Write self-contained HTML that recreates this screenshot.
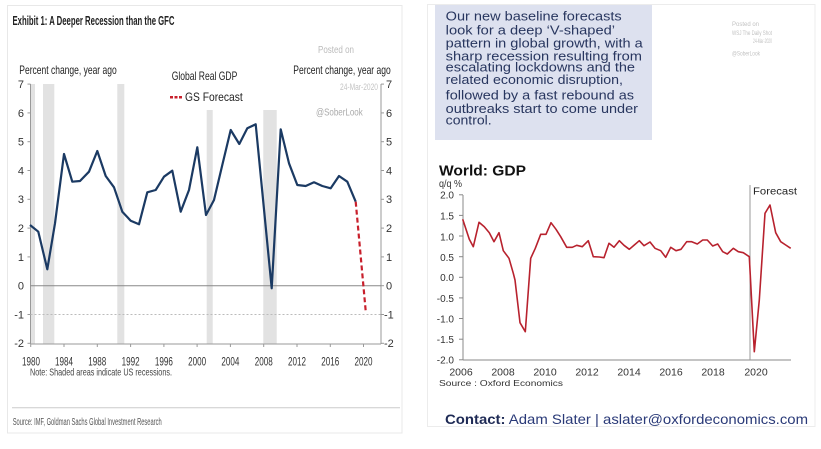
<!DOCTYPE html>
<html><head><meta charset="utf-8">
<style>
html,body{margin:0;padding:0;background:#fff;}
svg{display:block;}
text{font-family:"Liberation Sans",Arial,sans-serif;}
</style></head>
<body>
<svg width="821" height="449" viewBox="0 0 821 449" xmlns="http://www.w3.org/2000/svg">
<rect x="0" y="0" width="821" height="449" fill="#fff"/>

<!-- LEFT PANEL -->
<rect x="7.5" y="5.5" width="394.5" height="427.5" fill="#fff" stroke="#e8e8e8" stroke-width="1"/>
<text x="12.5" y="25" font-size="13" font-weight="bold" fill="#222" textLength="162" lengthAdjust="spacingAndGlyphs">Exhibit 1: A Deeper Recession than the GFC</text>

<!-- recession bars -->
<g fill="#e2e2e2">
<rect x="30.7" y="84" width="4.3" height="260"/>
<rect x="43" y="84" width="11.3" height="260"/>
<rect x="117.3" y="84" width="7" height="260"/>
<rect x="206.7" y="110" width="6" height="234"/>
<rect x="263.3" y="110" width="13.4" height="234"/>
</g>

<!-- labels top -->
<text x="19.3" y="74" font-size="12" fill="#222" textLength="97.4" lengthAdjust="spacingAndGlyphs">Percent change, year ago</text>
<text x="293.3" y="74" font-size="12" fill="#222" textLength="97.4" lengthAdjust="spacingAndGlyphs">Percent change, year ago</text>
<text x="171.7" y="80" font-size="12" fill="#222" textLength="65.6" lengthAdjust="spacingAndGlyphs">Global Real GDP</text>
<line x1="170" y1="97.3" x2="182" y2="97.3" stroke="#c8202c" stroke-width="2.5" stroke-dasharray="3,1.5"/>
<text x="185" y="101" font-size="12" fill="#222" textLength="57.7" lengthAdjust="spacingAndGlyphs">GS Forecast</text>
<text x="318" y="53" font-size="10" fill="#bbb" textLength="36" lengthAdjust="spacingAndGlyphs">Posted on</text>
<text x="340" y="90" font-size="9" fill="#c4c4c4" textLength="38" lengthAdjust="spacingAndGlyphs">24-Mar-2020</text>
<text x="316" y="115.5" font-size="10.5" fill="#aaa" textLength="46.7" lengthAdjust="spacingAndGlyphs">@SoberLook</text>

<!-- axes -->
<line x1="30.5" y1="84" x2="30.5" y2="344" stroke="#999" stroke-width="1"/>
<line x1="381" y1="84" x2="381" y2="344" stroke="#999" stroke-width="1"/>
<line x1="30.5" y1="344" x2="381" y2="344" stroke="#999" stroke-width="1"/>
<line x1="30.5" y1="285.7" x2="381" y2="285.7" stroke="#888" stroke-width="1"/>
<line x1="30.5" y1="314.5" x2="381" y2="314.5" stroke="#bbb" stroke-width="1" stroke-dasharray="2,2"/>
<g stroke="#999" stroke-width="1">
<line x1="381" y1="84.1" x2="384" y2="84.1"/><line x1="381" y1="112.9" x2="384" y2="112.9"/>
<line x1="381" y1="141.7" x2="384" y2="141.7"/><line x1="381" y1="170.5" x2="384" y2="170.5"/>
<line x1="381" y1="199.3" x2="384" y2="199.3"/><line x1="381" y1="228.1" x2="384" y2="228.1"/>
<line x1="381" y1="256.9" x2="384" y2="256.9"/><line x1="381" y1="285.7" x2="384" y2="285.7"/>
<line x1="381" y1="314.5" x2="384" y2="314.5"/><line x1="381" y1="343.3" x2="384" y2="343.3"/>
<line x1="27.5" y1="84.1" x2="30.5" y2="84.1"/><line x1="27.5" y1="112.9" x2="30.5" y2="112.9"/>
<line x1="27.5" y1="141.7" x2="30.5" y2="141.7"/><line x1="27.5" y1="170.5" x2="30.5" y2="170.5"/>
<line x1="27.5" y1="199.3" x2="30.5" y2="199.3"/><line x1="27.5" y1="228.1" x2="30.5" y2="228.1"/>
<line x1="27.5" y1="256.9" x2="30.5" y2="256.9"/><line x1="27.5" y1="314.5" x2="30.5" y2="314.5"/>
<line x1="27.5" y1="343.3" x2="30.5" y2="343.3"/>
<line x1="30.7" y1="344" x2="30.7" y2="347"/><line x1="64" y1="344" x2="64" y2="347"/>
<line x1="97.3" y1="344" x2="97.3" y2="347"/><line x1="130.6" y1="344" x2="130.6" y2="347"/>
<line x1="163.9" y1="344" x2="163.9" y2="347"/><line x1="197.1" y1="344" x2="197.1" y2="347"/>
<line x1="230.4" y1="344" x2="230.4" y2="347"/><line x1="263.7" y1="344" x2="263.7" y2="347"/>
<line x1="297" y1="344" x2="297" y2="347"/><line x1="330.3" y1="344" x2="330.3" y2="347"/>
<line x1="363.5" y1="344" x2="363.5" y2="347"/>
</g>
<!-- left y labels -->
<g font-size="11" fill="#333" text-anchor="end">
<text x="24" y="88">7</text><text x="24" y="117">6</text><text x="24" y="145.5">5</text>
<text x="24" y="174.5">4</text><text x="24" y="203">3</text><text x="24" y="232">2</text>
<text x="24" y="261">1</text><text x="24" y="289.5">0</text><text x="24" y="318.5">-1</text>
<text x="24" y="347">-2</text>
</g>
<g font-size="11" fill="#333">
<text x="386" y="88">7</text><text x="386" y="117">6</text><text x="386" y="145.5">5</text>
<text x="386" y="174.5">4</text><text x="386" y="203">3</text><text x="386" y="232">2</text>
<text x="386" y="261">1</text><text x="386" y="289.5">0</text><text x="384" y="318.5">-1</text>
<text x="384" y="347">-2</text>
</g>
<!-- x labels -->
<g font-size="12" fill="#333" text-anchor="middle">
<text x="31" y="365.5" textLength="18" lengthAdjust="spacingAndGlyphs">1980</text>
<text x="64" y="365.5" textLength="18" lengthAdjust="spacingAndGlyphs">1984</text>
<text x="97.3" y="365.5" textLength="18" lengthAdjust="spacingAndGlyphs">1988</text>
<text x="130.6" y="365.5" textLength="18" lengthAdjust="spacingAndGlyphs">1992</text>
<text x="163.9" y="365.5" textLength="18" lengthAdjust="spacingAndGlyphs">1996</text>
<text x="197.1" y="365.5" textLength="18" lengthAdjust="spacingAndGlyphs">2000</text>
<text x="230.4" y="365.5" textLength="18" lengthAdjust="spacingAndGlyphs">2004</text>
<text x="263.7" y="365.5" textLength="18" lengthAdjust="spacingAndGlyphs">2008</text>
<text x="297" y="365.5" textLength="18" lengthAdjust="spacingAndGlyphs">2012</text>
<text x="330.3" y="365.5" textLength="18" lengthAdjust="spacingAndGlyphs">2016</text>
<text x="363.5" y="365.5" textLength="18" lengthAdjust="spacingAndGlyphs">2020</text>
</g>
<text x="30" y="375.5" font-size="10.5" fill="#444" textLength="142" lengthAdjust="spacingAndGlyphs">Note: Shaded areas indicate US recessions.</text>
<line x1="12" y1="407.7" x2="400" y2="407.7" stroke="#ccc" stroke-width="1"/>
<text x="12.7" y="425" font-size="10" fill="#555" textLength="149" lengthAdjust="spacingAndGlyphs">Source: IMF, Goldman Sachs Global Investment Research</text>

<!-- series -->
<polyline fill="none" stroke="#1b3a63" stroke-width="2.2" stroke-linejoin="round" points="30.0,225.0 38.3,231.7 47.3,269.3 55.0,223.3 64.0,154.0 72.3,181.7 80.0,181.0 89.0,171.7 97.3,151.0 105.7,176.0 114.0,187.3 122.3,211.7 130.7,220.7 139.0,224.3 147.3,192.3 155.7,190.0 164.0,176.7 172.3,170.7 180.7,211.7 189.0,190.0 197.3,147.3 206.0,215.0 214.0,200.0 222.3,165.0 230.7,130.0 239.3,144.0 247.3,128.3 255.7,124.3 271.7,288.3 280.7,129.3 289.0,163.3 297.3,185.0 305.7,186.0 314.0,182.3 322.3,186.0 330.7,188.3 339.0,176.0 347.3,181.7 355.7,201.7"/>
<line x1="355.7" y1="201.7" x2="365.7" y2="311" stroke="#c8202c" stroke-width="2.2" stroke-dasharray="5,3"/>

<!-- RIGHT PANEL -->
<rect x="427.5" y="4.5" width="387.5" height="422" fill="#fff" stroke="#ececec" stroke-width="1"/>
<rect x="435" y="5" width="217" height="135" fill="#dde1ef"/>
<g font-size="12.5" fill="#28365f">
<text x="445.7" y="20.7" textLength="176" lengthAdjust="spacingAndGlyphs">Our new baseline forecasts</text>
<text x="445.7" y="34.3" textLength="169.3" lengthAdjust="spacingAndGlyphs">look for a deep ‘V-shaped’</text>
<text x="445.7" y="47.7" textLength="197" lengthAdjust="spacingAndGlyphs">pattern in global growth, with a</text>
<text x="445.7" y="60.7" textLength="196.3" lengthAdjust="spacingAndGlyphs">sharp recession resulting from</text>
<text x="445.7" y="71.5" textLength="189.3" lengthAdjust="spacingAndGlyphs">escalating lockdowns and the</text>
<text x="445.7" y="84" textLength="177.3" lengthAdjust="spacingAndGlyphs">related economic disruption,</text>
<text x="445.7" y="99.5" textLength="188.3" lengthAdjust="spacingAndGlyphs">followed by a fast rebound as</text>
<text x="445.7" y="112.9" textLength="192.3" lengthAdjust="spacingAndGlyphs">outbreaks start to come under</text>
<text x="445.7" y="124.5" textLength="46" lengthAdjust="spacingAndGlyphs">control.</text>
</g>
<g font-size="6" fill="#c2c2c2">
<text x="732" y="26">Posted on</text>
<text x="732" y="35" textLength="40" lengthAdjust="spacingAndGlyphs">WSJ The Daily Shot</text>
<text x="753" y="43" textLength="19" lengthAdjust="spacingAndGlyphs">24-Mar-2020</text>
<text x="732" y="55.5" textLength="28" lengthAdjust="spacingAndGlyphs">@SoberLook</text>
</g>

<text x="439" y="175.5" font-size="15" font-weight="bold" fill="#111" textLength="87" lengthAdjust="spacingAndGlyphs">World: GDP</text>
<text x="439" y="187" font-size="10" fill="#333" textLength="23" lengthAdjust="spacingAndGlyphs">q/q %</text>

<g font-size="10" fill="#333" text-anchor="end">
<text x="454" y="198.5">2.0</text>
<text x="454" y="219.5">1.5</text>
<text x="454" y="240.5">1.0</text>
<text x="454" y="261">0.5</text>
<text x="454" y="281">0.0</text>
<text x="454" y="302">-0.5</text>
<text x="454" y="322.5">-1.0</text>
<text x="454" y="343">-1.5</text>
<text x="454" y="363.5">-2.0</text>
</g>
<line x1="463" y1="195" x2="463" y2="360" stroke="#888" stroke-width="1"/>
<line x1="463" y1="360" x2="791" y2="360" stroke="#888" stroke-width="1"/>
<g stroke="#888" stroke-width="1">
<line x1="459" y1="194.8" x2="463" y2="194.8"/><line x1="459" y1="215.4" x2="463" y2="215.4"/>
<line x1="459" y1="236" x2="463" y2="236"/><line x1="459" y1="256.7" x2="463" y2="256.7"/>
<line x1="459" y1="277.3" x2="463" y2="277.3"/><line x1="459" y1="297.9" x2="463" y2="297.9"/>
<line x1="459" y1="318.5" x2="463" y2="318.5"/><line x1="459" y1="339.2" x2="463" y2="339.2"/>
<line x1="459" y1="359.8" x2="463" y2="359.8"/>
</g>
<line x1="750" y1="185" x2="750" y2="360" stroke="#999" stroke-width="1"/>
<text x="753" y="194.5" font-size="10" fill="#222" textLength="44" lengthAdjust="spacingAndGlyphs">Forecast</text>
<g font-size="10.5" fill="#333" text-anchor="middle">
<text x="461" y="375.5">2006</text>
<text x="503" y="375.5">2008</text>
<text x="545" y="375.5">2010</text>
<text x="587" y="375.5">2012</text>
<text x="629" y="375.5">2014</text>
<text x="671" y="375.5">2016</text>
<text x="713" y="375.5">2018</text>
<text x="756" y="375.5">2020</text>
</g>
<text x="439" y="386" font-size="8.5" fill="#333" textLength="124" lengthAdjust="spacingAndGlyphs">Source : Oxford Economics</text>

<polyline fill="none" stroke="#b8222e" stroke-width="1.6" stroke-linejoin="round" points="462.7,219.3 469.3,239.3 473.3,246.7 479.0,222.3 484.3,226.7 489.3,232.7 494.0,241.7 499.0,232.7 503.3,250.7 509.0,258.3 513.3,273.3 515.0,280.0 520.0,322.7 525.3,331.7 530.7,258.3 535.3,248.3 540.7,234.3 546.0,234.3 551.0,222.7 556.0,229.3 560.7,236.7 566.7,247.3 572.3,247.3 576.7,245.3 582.3,246.7 588.3,240.7 593.3,256.7 599.3,257.0 604.0,257.7 609.0,243.3 614.0,247.3 619.3,240.7 624.0,245.3 629.3,249.3 634.3,245.0 639.3,240.7 644.0,245.7 650.0,242.0 655.0,248.3 660.7,250.7 665.7,257.3 670.7,247.3 676.0,250.7 681.0,249.3 686.7,241.7 691.7,241.7 697.3,244.0 702.7,240.0 707.3,240.0 712.7,246.0 717.7,244.0 722.7,251.7 727.3,254.0 733.3,248.3 738.3,251.7 743.3,252.7 749.3,256.7 754.3,351.7 759.3,300.0 765.0,213.3 770.0,205.0 775.7,232.7 780.7,241.7 785.7,245.0 790.7,248.3"/>

<text x="445" y="424" font-size="14" fill="#2a3a78" textLength="363" lengthAdjust="spacingAndGlyphs"><tspan font-weight="bold" fill="#1e2a55">Contact:</tspan> Adam Slater | aslater@oxfordeconomics.com</text>
</svg>
</body></html>
